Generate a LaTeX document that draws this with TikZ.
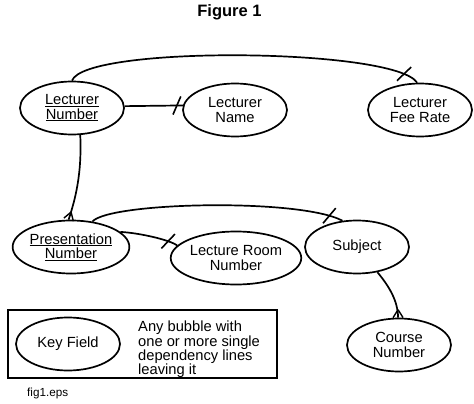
\documentclass[tikz,border=0pt]{standalone}
\usepackage{fontspec}
\setmainfont{Liberation Sans}
\usetikzlibrary{shapes.geometric,decorations.markings}
\begin{document}
\begin{tikzpicture}[x=1pt,y=-1pt,
  bubble/.style={draw, ellipse, line width=1.7pt, minimum width=104pt, minimum height=53pt, inner sep=0pt, align=center, font=\fontsize{14.7}{14.3}\selectfont},
  conn/.style={line width=1.7pt},
  tickend/.style={postaction={decorate}, decoration={markings, mark=at position -#1 with {\draw[line width=1.6pt] (-4pt,-9pt) -- (4pt,9pt);}}},
  crowfoot/.style={postaction={decorate}, decoration={markings, mark=at position -0.01pt with {\draw[line width=1.4pt] (-8pt,0pt) -- (0pt,5pt) (-8pt,0pt) -- (0pt,-5pt);}}},
  plain/.style={inner sep=0pt, font=\fontsize{14.7}{14.3}\selectfont, align=left}
]
\useasboundingbox (0,0) rectangle (474,404);

\node[font=\bfseries\fontsize{16.5}{18}\selectfont, anchor=base] (title) at (229.5,17) {Figure 1};

\node[bubble] (ln) at (72,108) {\underline{Lecturer}\\\underline{Number}};
\node[bubble] (lname) at (235,110) {Lecturer\\Name};
\node[bubble] (lfr) at (420,110) {Lecturer\\Fee Rate};
\node[bubble] (pn) at (71,247) {\underline{Presentation}\\\underline{Number}};
\node[bubble] (lrn) at (236,258) {Lecture Room\\Number};
\node[bubble] (subj) at (357,247) {Subject};
\node[bubble] (cn) at (399,345) {Course\\Number};

% connectors
\draw[conn, tickend=16pt] (ln.north) .. controls (85,45) and (395,48) .. (lfr.96);
\draw[conn, tickend=6pt] (ln.2) -- (lname.175);
\draw[conn, crowfoot] (ln.-73) .. controls (82,175) and (75,200) .. (pn.95);
\draw[conn, tickend=14pt] (pn.50) .. controls (110,202) and (300,198) .. (subj.119);
\draw[conn, tickend=10pt] (pn.17) .. controls (140,233) and (170,240) .. (lrn.168);
\draw[conn, crowfoot] (subj.-51) .. controls (388,285) and (398,300) .. (cn.92);

% legend
\draw[line width=1.7pt] (8,310) rectangle (277,378);
\node[bubble] (key) at (68,344) {Key Field};
\node[plain, anchor=north west] (keytext) at (138,321) {Any bubble with\\one or more single\\dependency lines\\leaving it};

\node[anchor=base west, inner sep=0pt, font=\fontsize{11.7}{13}\selectfont] (fig) at (27,396) {fig1.eps};
\end{tikzpicture}
\end{document}
